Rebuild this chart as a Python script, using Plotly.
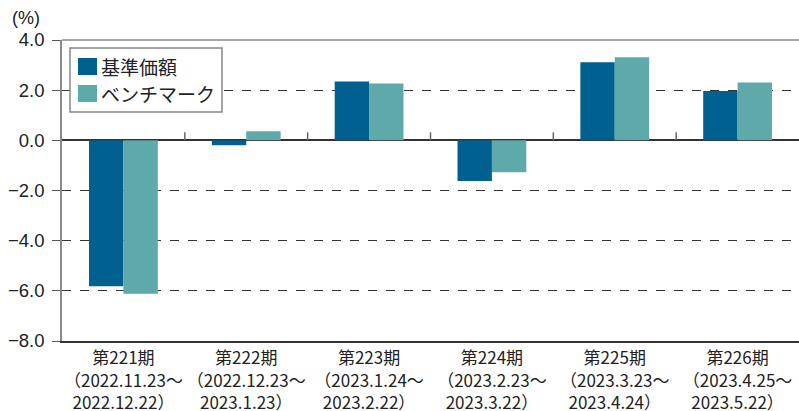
import plotly.graph_objects as go

categories = [
    "第221期<br>（2022.11.23～<br>2022.12.22）",
    "第222期<br>（2022.12.23～<br>2023.1.23）",
    "第223期<br>（2023.1.24～<br>2023.2.22）",
    "第224期<br>（2023.2.23～<br>2023.3.22）",
    "第225期<br>（2023.3.23～<br>2023.4.24）",
    "第226期<br>（2023.4.25～<br>2023.5.22）",
]
series_names = ["基準価額", "ベンチマーク"]
fund = [-5.82, -0.20, 2.35, -1.62, 3.11, 1.97]
bench = [-6.12, 0.36, 2.27, -1.27, 3.31, 2.31]
y_ticks = [4.0, 2.0, 0.0, -2.0, -4.0, -6.0, -8.0]

colors = ["#00608F", "#5EA9AA"]

W, H = 799, 411
L, R, T, B = 62, 0, 40, 70
pw, ph = W - L - R, H - T - B

def px_x(p):
    return (p - L) / pw

def px_y(p):
    return (H - B - p) / ph

fig = go.Figure()
for name, vals, c in zip(series_names, [fund, bench], colors):
    fig.add_trace(go.Bar(
        x=list(range(len(categories))), y=vals, name=name,
        marker=dict(color=c, line=dict(width=0)), showlegend=False,
    ))

shapes = []
# top frame line
shapes.append(dict(type="line", xref="paper", yref="paper", x0=0, x1=1, y0=1, y1=1,
                   line=dict(color="#8a8a8a", width=1.5), layer="above"))
# category boundary ticks on the zero line
for i in range(1, len(categories)):
    shapes.append(dict(type="line", xref="x", yref="y", x0=i - 0.5, x1=i - 0.5,
                       y0=0, y1=0.32, line=dict(color="#666666", width=1.5)))
# custom legend box
shapes.append(dict(type="rect", xref="paper", yref="paper",
                   x0=px_x(70), x1=px_x(222), y0=px_y(112), y1=px_y(48),
                   line=dict(color="#888888", width=1.5), fillcolor="white", layer="above"))
annotations = []
for k, (name, c) in enumerate(zip(series_names, colors)):
    top = 58 + k * 27
    shapes.append(dict(type="rect", xref="paper", yref="paper",
                       x0=px_x(78), x1=px_x(97), y0=px_y(top + 17), y1=px_y(top),
                       line=dict(width=0), fillcolor=c, layer="above"))
    annotations.append(dict(xref="paper", yref="paper", x=px_x(99), y=px_y(top + 8.5),
                            text=name, showarrow=False, xanchor="left", yanchor="middle",
                            font=dict(family="Noto Sans CJK JP", size=19, color="#222222")))
annotations.append(dict(xref="paper", yref="paper", x=px_x(10), y=px_y(18),
                        text="(%)", showarrow=False, xanchor="left", yanchor="middle",
                        font=dict(family="Liberation Sans, Noto Sans CJK JP", size=18, color="#222222")))

fig.update_layout(
    width=W, height=H,
    margin=dict(l=L, r=R, t=T, b=B, pad=0, autoexpand=False),
    paper_bgcolor="white", plot_bgcolor="white",
    barmode="group", bargap=0.44, bargroupgap=0,
    shapes=shapes, annotations=annotations,
    showlegend=False,
)
fig.update_xaxes(
    tickmode="array", tickvals=list(range(len(categories))), ticktext=categories,
    range=[-0.5, len(categories) - 0.5],
    showgrid=False, zeroline=False, automargin=False,
    showline=True, linecolor="#333333", linewidth=2,
    ticks="", ticklabelstandoff=1, tickangle=0,
    tickfont=dict(family="Noto Sans CJK JP", size=17, color="#222222"),
)
fig.update_yaxes(
    range=[-8, 4], tickmode="array", tickvals=y_ticks, tickformat=".1f",
    showgrid=True, gridcolor="#333333", gridwidth=1, griddash="dash",
    zeroline=True, zerolinecolor="#333333", zerolinewidth=1.5,
    showline=True, linecolor="#8a8a8a", linewidth=1.5, automargin=False,
    ticks="outside", ticklen=8, tickcolor="#555555", tickwidth=1.2,
    tickfont=dict(family="Liberation Sans", size=18.5, color="#222222"),
    ticklabelstandoff=4,
)

fig.write_html(
    "out.html",
    config={"displayModeBar": False},
    post_script="document.body.style.margin='0';document.body.style.overflow='hidden';",
)
